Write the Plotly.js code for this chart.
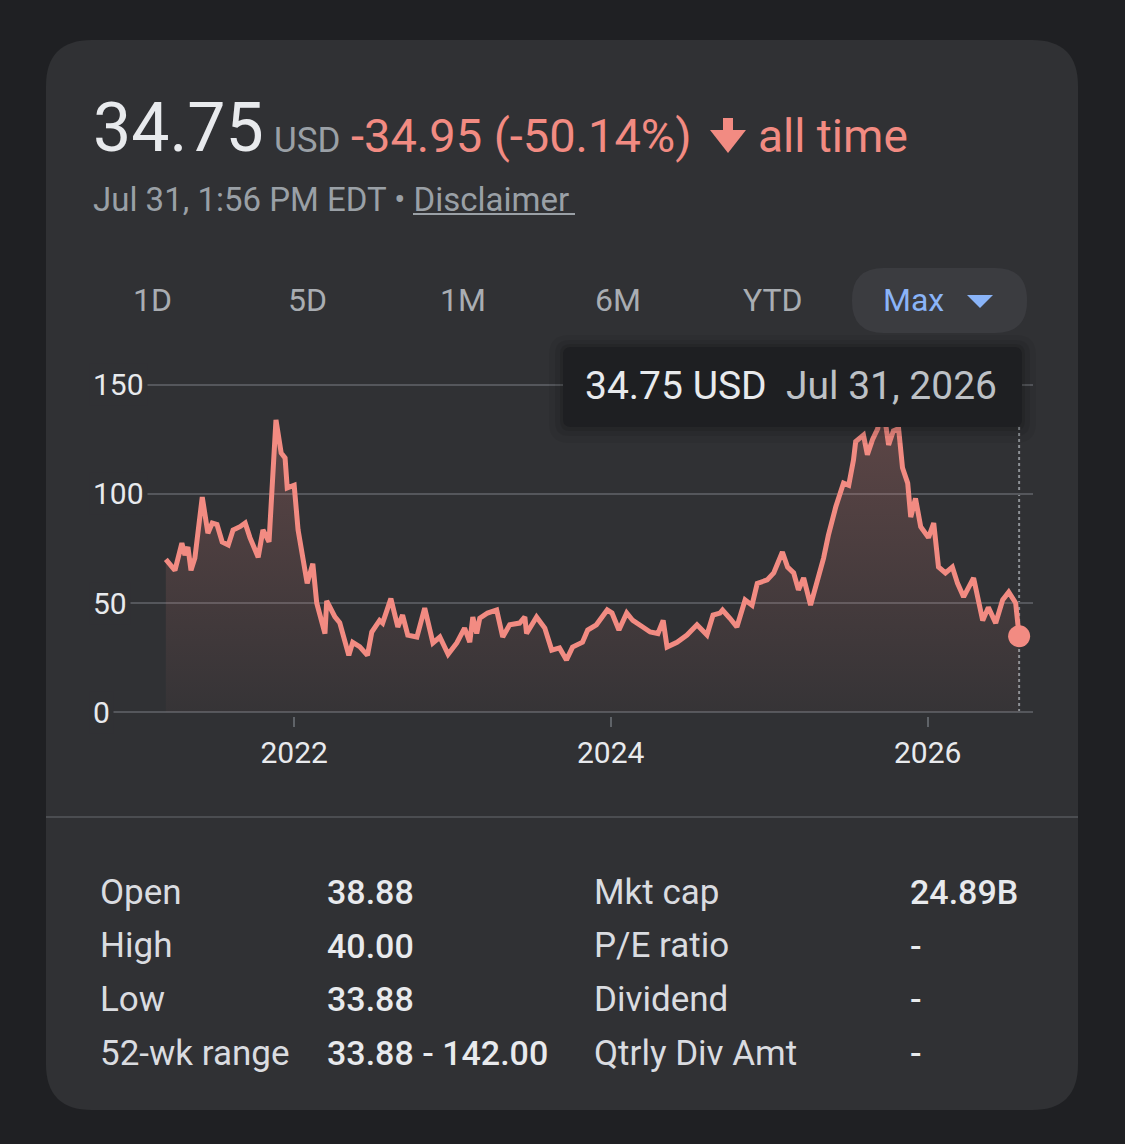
<!DOCTYPE html>
<html>
<head>
<meta charset="utf-8">
<script src="https://cdn.plot.ly/plotly-3.0.1.min.js"></script>
<style>
html,body{margin:0;padding:0;background:#1f2023;}
#chart{width:1125px;height:1144px;}
</style>
</head>
<body>
<div id="chart"></div>
<script>
// ---- data ----
const dates = [
'2021-03-11','2021-04-01','2021-04-17','2021-04-24','2021-05-01','2021-05-08','2021-05-17','2021-06-03',
'2021-06-16','2021-06-26','2021-07-07','2021-07-19','2021-08-02','2021-08-13','2021-08-29','2021-09-10',
'2021-09-21','2021-10-10','2021-10-21','2021-11-04','2021-11-20','2021-12-02','2021-12-11','2021-12-16',
'2022-01-01','2022-01-10','2022-01-31','2022-02-13','2022-02-22','2022-03-13','2022-03-17','2022-04-05',
'2022-04-16','2022-05-07','2022-05-16','2022-06-01','2022-06-19','2022-06-29','2022-07-17','2022-07-24',
'2022-08-12','2022-08-28','2022-09-08','2022-09-20','2022-10-11','2022-10-29','2022-11-17','2022-12-03',
'2022-12-22','2023-01-11','2023-01-29','2023-02-10','2023-02-17','2023-02-26','2023-03-05','2023-03-23',
'2023-04-13','2023-04-27','2023-05-13','2023-06-05','2023-06-17','2023-06-21','2023-07-14','2023-08-02',
'2023-08-18','2023-09-05','2023-09-21','2023-10-05','2023-10-28','2023-11-09','2023-11-29','2023-12-24',
'2024-01-04','2024-01-20','2024-02-07','2024-02-21','2024-03-15','2024-04-01','2024-04-19','2024-05-01',
'2024-05-10','2024-06-02','2024-06-25','2024-07-18','2024-08-10','2024-08-24','2024-09-09','2024-09-15',
'2024-10-02','2024-10-18','2024-11-06','2024-11-22','2024-12-04','2024-12-27','2025-01-11','2025-01-31',
'2025-02-12','2025-02-26','2025-03-09','2025-03-21','2025-04-06','2025-04-22','2025-05-06','2025-05-17',
'2025-06-03','2025-06-21','2025-07-03','2025-07-14','2025-07-19','2025-08-06','2025-08-15','2025-08-27',
'2025-09-08','2025-09-14','2025-09-24','2025-10-03','2025-10-14','2025-10-26','2025-11-04','2025-11-16',
'2025-11-23','2025-12-04','2025-12-16','2026-01-03','2026-01-15','2026-01-26','2026-02-11','2026-02-27',
'2026-03-11','2026-03-25','2026-04-05','2026-04-17','2026-05-08','2026-05-21','2026-06-07','2026-06-23',
'2026-07-07','2026-07-23','2026-07-31'
];
const prices = [
70,65,77.5,72,75.7,65,70.6,98.6,
82,86.7,86,78,76.6,83.5,85,86.7,
80,71,83.5,78,134,118.8,116.5,102.8,
104,83.5,59,68,50,36,51,43.6,
41,26,32,30,26,36.7,42,40.8,
52,39,44.5,35.3,34.4,47.7,31.7,34.4,
26.5,31.7,38.5,32,43.6,36,43,45.4,
46.8,34.4,40,40.8,43.6,36,43.6,38.5,
28.4,29.4,23.9,29.8,32,37.6,40,46.8,
45.4,37.6,45.4,42,39,36.7,36,42,
29.8,32,35.3,40,35.3,44.5,45.4,46.8,
43,39,51.4,49,59,60.6,63.8,73.4,
66.5,63.8,56,61.5,49,60.6,70.6,81,
94,105,104,115.6,124,127,118,125,
130,142,135,122.5,129,130,112,105,
89.4,98,85,80,86.7,66.5,63.8,66.5,
59,52.8,57.3,61.5,42,48,40.8,51.4,
55,50,34.75
];
const yTicks = [0, 50, 100, 150];
const xTickVals = ['2022-01-01', '2024-01-01', '2026-01-01'];
const xTickText = ['2022', '2024', '2026'];
const ranges = ['1D', '5D', '1M', '6M', 'YTD'];
const statLabelsL = ['Open', 'High', 'Low', '52-wk range'];
const statValuesL = ['38.88', '40.00', '33.88', '33.88 - 142.00'];
const statLabelsR = ['Mkt cap', 'P/E ratio', 'Dividend', 'Qtrly Div Amt'];
const statValuesR = ['24.89B', '-', '-', '-'];

// ---- layout helpers ----
const W = 1125, H = 1144;
const X = v => v / W, Y = v => 1 - v / H;
const FONT = 'Roboto, "Noto Sans", sans-serif';
const CARD = '#303134', RED = '#f28b82', WHITE = '#e8eaed', GRAY = '#9aa0a6', BLUE = '#8ab4f8';

function rrect(x0, y0, x1, y1, r) {
  const p = (a, b) => X(a) + ',' + Y(b);
  return 'M' + p(x0 + r, y0) + ' L' + p(x1 - r, y0) + ' Q' + p(x1, y0) + ' ' + p(x1, y0 + r) +
    ' L' + p(x1, y1 - r) + ' Q' + p(x1, y1) + ' ' + p(x1 - r, y1) +
    ' L' + p(x0 + r, y1) + ' Q' + p(x0, y1) + ' ' + p(x0, y1 - r) +
    ' L' + p(x0, y0 + r) + ' Q' + p(x0, y0) + ' ' + p(x0 + r, y0) + ' Z';
}
function txt(text, x, y, size, color, anchor, weight) {
  return {text: text, xref: 'paper', yref: 'paper', x: X(x), y: Y(y), xanchor: anchor || 'left',
    yanchor: 'middle', showarrow: false, font: {family: FONT, size: size, color: color, weight: weight || 400}};
}

const last = dates.length - 1;

const traces = [
  {
    x: dates, y: prices, type: 'scatter', mode: 'lines',
    line: {color: RED, width: 5, shape: 'linear'},
    fill: 'tozeroy',
    fillcolor: 'rgba(242,139,130,0.12)',
    fillgradient: {type: 'vertical', start: 0, stop: 142,
      colorscale: [[0, 'rgba(242,139,130,0.03)'], [1, 'rgba(242,139,130,0.24)']]},
    hoverinfo: 'skip'
  },
  {
    x: [dates[last]], y: [prices[last]], type: 'scatter', mode: 'markers',
    marker: {color: RED, size: 22}, hoverinfo: 'skip'
  }
];

const shapes = [
  // card
  {type: 'path', xref: 'paper', yref: 'paper', path: rrect(46, 40, 1078, 1110, 46),
    fillcolor: CARD, line: {width: 0}, layer: 'below'},
  // Max pill
  {type: 'path', xref: 'paper', yref: 'paper', path: rrect(852, 268, 1027, 333, 32),
    fillcolor: '#3b3c40', line: {width: 0}, layer: 'below'},
  // separator
  {type: 'line', xref: 'paper', yref: 'paper', x0: X(46), x1: X(1078), y0: Y(817), y1: Y(817),
    line: {color: '#4b4d51', width: 2}, layer: 'below'},
  // dashed hover line
  {type: 'line', xref: 'x', yref: 'y', x0: dates[last], x1: dates[last], y0: 0, y1: 150,
    line: {color: '#8d9196', width: 2, dash: 'dot'}, layer: 'below'},
  // Max triangle
  {type: 'path', xref: 'paper', yref: 'paper',
    path: 'M' + X(967) + ',' + Y(295) + ' L' + X(993) + ',' + Y(295) + ' L' + X(980) + ',' + Y(308) + ' Z',
    fillcolor: BLUE, line: {width: 0}, layer: 'above'},
  // down arrow
  {type: 'rect', xref: 'paper', yref: 'paper', x0: X(723), x1: X(733), y0: Y(118), y1: Y(134),
    fillcolor: RED, line: {width: 0}, layer: 'above'},
  {type: 'path', xref: 'paper', yref: 'paper',
    path: 'M' + X(710) + ',' + Y(130) + ' L' + X(746) + ',' + Y(130) + ' L' + X(728) + ',' + Y(153) + ' Z',
    fillcolor: RED, line: {width: 0}, layer: 'above'},
  // Disclaimer underline
  {type: 'line', xref: 'paper', yref: 'paper', x0: X(413), x1: X(575), y0: Y(214), y1: Y(214),
    line: {color: GRAY, width: 2}, layer: 'above'},
  // tooltip shadow + box
  {type: 'path', xref: 'paper', yref: 'paper', path: rrect(549, 335, 1036, 443, 20),
    fillcolor: 'rgba(0,0,0,0.05)', line: {width: 0}, layer: 'above'},
  {type: 'path', xref: 'paper', yref: 'paper', path: rrect(555, 340, 1030, 436, 14),
    fillcolor: 'rgba(0,0,0,0.07)', line: {width: 0}, layer: 'above'},
  {type: 'path', xref: 'paper', yref: 'paper', path: rrect(560, 344, 1025, 431, 10),
    fillcolor: 'rgba(0,0,0,0.09)', line: {width: 0}, layer: 'above'},
  {type: 'path', xref: 'paper', yref: 'paper', path: rrect(563, 347, 1022, 427, 8),
    fillcolor: '#1e1f22', line: {width: 0}, layer: 'above'}
];

const annotations = [
  txt('34.75', 91, 128, 68, WHITE),
  txt('USD', 272, 140, 35, GRAY),
  txt('-34.95 (-50.14%)', 349, 136, 47, RED),
  txt('all time', 756, 136, 46, RED),
  txt('Jul 31, 1:56 PM EDT \u2022 Disclaimer', 91, 199, 33, GRAY),
  txt('Max', 913, 300, 32, BLUE, 'center'),
  txt('34.75 USD', 583, 386, 39, WHITE),
  txt('Jul 31, 2026', 999, 386, 39, '#bdc1c6', 'right')
];
const btnX = [152, 307, 463, 618, 773];
ranges.forEach((r, i) => annotations.push(txt(r, btnX[i], 300, 32, '#a9adb2', 'center')));
const rowY = [892, 946, 999, 1053];
rowY.forEach((ry, i) => {
  annotations.push(txt(statLabelsL[i], 98, ry, 35, '#dadce0'));
  annotations.push(txt(statValuesL[i], 325, ry, 34, WHITE, 'left', 500));
  annotations.push(txt(statLabelsR[i], 592, ry, 35, '#dadce0'));
  annotations.push(txt(statValuesR[i], 908, ry, 34, WHITE, 'left', 500));
});
yTicks.forEach(v => annotations.push({
  text: String(v), xref: 'paper', yref: 'y', x: X(89), y: v, xanchor: 'left', yanchor: 'middle',
  showarrow: false, bgcolor: CARD, borderpad: 3,
  font: {family: FONT, size: 30, color: WHITE}
}));

const layout = {
  width: W, height: H,
  margin: {l: 0, r: 0, t: 0, b: 0, pad: 0},
  paper_bgcolor: '#1f2023', plot_bgcolor: 'rgba(0,0,0,0)',
  showlegend: false,
  xaxis: {
    type: 'date', domain: [X(93), X(1033)], range: ['2020-09-24', '2026-09-01'],
    tickvals: xTickVals, ticktext: xTickText,
    ticks: 'outside', ticklen: 10, tickwidth: 2, tickcolor: '#5f6368',
    showgrid: false, zeroline: false, showline: false,
    tickfont: {family: FONT, size: 30, color: WHITE}, fixedrange: true
  },
  yaxis: {
    domain: [Y(716.4), Y(380.6)], range: [-2, 152],
    tickvals: yTicks, showticklabels: false, ticks: '',
    showgrid: true, gridcolor: '#55575c', gridwidth: 2,
    zeroline: false, showline: false, fixedrange: true
  },
  shapes: shapes,
  annotations: annotations
};

Plotly.newPlot('chart', traces, layout, {staticPlot: true, displayModeBar: false});
</script>
</body>
</html>
